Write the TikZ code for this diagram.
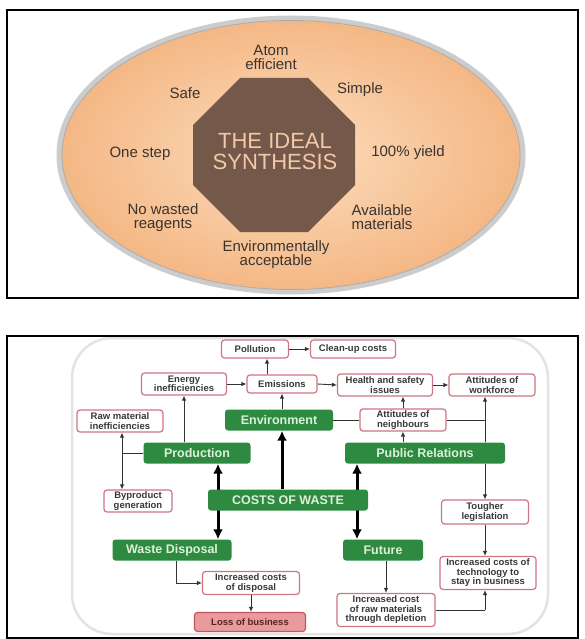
\documentclass[tikz,border=0pt]{standalone}
\usepackage{fontspec}
\setmainfont{Liberation Sans}
\usetikzlibrary{arrows.meta}
\definecolor{peach}{HTML}{F4B784}
\definecolor{peachlight}{HTML}{FCDDBE}
\definecolor{octo}{HTML}{74594A}
\definecolor{octotext}{HTML}{F2C9A6}
\definecolor{gboxc}{HTML}{2E8A40}
\definecolor{gtext}{HTML}{DDF1D8}
\definecolor{pinkb}{HTML}{CF7480}
\definecolor{lossfill}{HTML}{E99A9C}
\definecolor{lossdraw}{HTML}{C4555F}
\definecolor{losstext}{HTML}{5A2222}
\definecolor{labtext}{HTML}{3A3430}
\pgfdeclarelayer{back}
\pgfdeclarelayer{bg}
\pgfsetlayers{back,bg,main}
\tikzset{
  gbox/.style={fill=gboxc, rounded corners=3pt, text=gtext, inner sep=0pt,
    minimum height=21pt, font=\fontsize{12.5}{13}\selectfont\bfseries},
  pbox/.style={draw=pinkb, line width=1.2pt, fill=white, rounded corners=3pt,
    inner sep=0pt, align=center, text=black!78,
    font=\fontsize{9.5}{9.5}\selectfont\bfseries},
  arr/.style={draw=black!80, line width=0.9pt, -{Latex[length=5pt,width=4.5pt]}},
  plain/.style={draw=black!80, line width=0.9pt},
  thk/.style={draw=black, line width=3pt, {Latex[length=10pt,width=10pt]}-{Latex[length=10pt,width=10pt]}},
  thkone/.style={draw=black, line width=3pt, -{Latex[length=10pt,width=10pt]}},
  lab/.style={text=labtext, align=center, font=\fontsize{15}{14}\selectfont},
}
\begin{document}
\begin{tikzpicture}[x=1pt,y=-1pt]
\useasboundingbox (0,0) rectangle (585,639);
\begin{pgfonlayer}{back}
\fill[white] (0,0) rectangle (585,639);
\end{pgfonlayer}

% ---------- top panel ----------
\draw[line width=1.6pt] (7,10) rectangle (578,298);
\shade[inner color=peachlight, outer color=peach] (291,155) ellipse [x radius=232, y radius=137];
\draw[line width=5pt, draw=gray!40] (291,155) ellipse [x radius=232, y radius=137];
\draw[line width=0.8pt, draw=gray!65] (291,155) ellipse [x radius=229, y radius=134.5];
\fill[octo] (240,78) -- (308,78) -- (355,125) -- (355,185) -- (308,232) -- (240,232) -- (193,185) -- (193,125) -- cycle;
\node[text=octotext, align=center, font=\fontsize{22}{21}\selectfont] (title) at (275,152) {THE IDEAL\\SYNTHESIS};
\node[lab] (atom) at (271,57) {Atom\\efficient};
\node[lab] (safe) at (185,93) {Safe};
\node[lab] (simple) at (360,90) {Simple};
\node[lab] (onestep) at (140,154) {One step};
\node[lab] (yield) at (408,153) {100\% yield};
\node[lab] (nowaste) at (163,218) {No wasted\\reagents};
\node[lab] (avail) at (382,217) {Available\\materials};
\node[lab] (envacc) at (276,255) {Environmentally\\acceptable};

% ---------- bottom panel ----------
\draw[line width=1.6pt] (7,336) rectangle (578,638);
\begin{pgfonlayer}{back}
\draw[draw=gray!22, line width=2.5pt, fill=white, rounded corners=40pt] (72,338) rectangle (548,634);
\end{pgfonlayer}

\node[pbox, minimum width=67pt, minimum height=18pt] (poll) at (255,349) {Pollution};
\node[pbox, minimum width=85pt, minimum height=18pt] (clean) at (353,349) {Clean-up costs};
\node[pbox, minimum width=85pt, minimum height=22pt] (energy) at (184,384) {Energy\\inefficiencies};
\node[pbox, minimum width=70pt, minimum height=18pt] (emis) at (282,384) {Emissions};
\node[pbox, minimum width=95pt, minimum height=22pt] (health) at (385,385) {Health and safety\\issues};
\node[pbox, minimum width=86pt, minimum height=22pt] (work) at (492,385) {Attitudes of\\workforce};
\node[pbox, minimum width=86pt, minimum height=22pt] (rawi) at (120,421) {Raw material\\inefficiencies};
\node[gbox, minimum width=108pt] (env) at (279,420) {Environment};
\node[pbox, minimum width=86pt, minimum height=22pt] (neigh) at (403,420) {Attitudes of\\neighbours};
\node[gbox, minimum width=107pt] (prod) at (197,453) {Production};
\node[gbox, minimum width=160pt] (pr) at (425,453) {Public Relations};
\node[pbox, minimum width=68pt, minimum height=22pt] (byp) at (138,501) {Byproduct\\generation};
\node[gbox, minimum width=160pt] (cost) at (288,500) {COSTS OF WASTE};
\node[pbox, minimum width=87pt, minimum height=24pt] (tough) at (485,512) {Tougher\\legislation};
\node[gbox, minimum width=119pt] (wd) at (172,550) {Waste Disposal};
\node[gbox, minimum width=80pt] (fut) at (383,550) {Future};
\node[pbox, minimum width=97pt, minimum height=23pt] (disp) at (251,583) {Increased costs\\of disposal};
\node[pbox, minimum width=96pt, minimum height=33pt] (tech) at (488,573) {Increased costs of\\technology to\\stay in business};
\node[pbox, minimum width=98pt, minimum height=33pt] (rawm) at (386,610) {Increased cost\\of raw materials\\through depletion};
\node[pbox, fill=lossfill, draw=lossdraw, text=losstext, minimum width=111pt, minimum height=19pt] (loss) at (250,622) {Loss of business};

\coordinate (xep) at (267,0);
\coordinate (pj) at (122,453);
\coordinate (rj) at (485,420);
\coordinate (wdj) at (176,583);
\coordinate (xl) at (218,0);
\coordinate (xm) at (282,0);
\coordinate (xr) at (357,0);

\draw[arr] (poll.east) -- (clean.west);
\draw[arr] (emis.north -| xep) -- (poll.south -| xep);
\draw[arr] (energy.east) -- (emis.west);
\draw[arr] (emis.east) -- (health.west);
\draw[arr] (health.east) -- (work.west);
\draw[arr] (env.north -| emis.south) -- (emis.south);
\draw[arr] (prod.north -| energy.south) -- (energy.south);
\draw[plain] (prod.west) -- (pj);
\draw[arr] (pj) -- (pj |- rawi.south);
\draw[arr] (pj) -- (pj |- byp.north);
\draw[plain] (env.east) -- (neigh.west);
\draw[plain] (neigh.east) -- (rj);
\draw[arr] (pr.north -| rj) -- (rj |- work.south);
\draw[arr] (pr.north -| neigh.south) -- (neigh.south);
\draw[arr] (neigh.north) -- (neigh.north |- health.south);
\draw[arr] (pr.south -| rj) -- (rj |- tough.north);
\draw[arr] (tough.south -| rj) -- (rj |- tech.north);
\draw[plain] (rawm.east) -- (rawm.east -| rj);
\draw[arr] (rawm.east -| rj) -- (rj |- tech.south);
\draw[arr] (fut.south -| rawm.north) -- (rawm.north);
\draw[plain] (wd.south -| wdj) -- (wdj);
\draw[arr] (wdj) -- (disp.west);
\draw[arr] (disp.south) -- (disp.south |- loss.north);
\begin{pgfonlayer}{bg}
\draw[thk] (prod.south -| xl) -- (wd.north -| xl);
\draw[thk] (pr.south -| xr) -- (fut.north -| xr);
\draw[thkone] (cost.north -| xm) -- (env.south -| xm);
\end{pgfonlayer}
\end{tikzpicture}
\end{document}
